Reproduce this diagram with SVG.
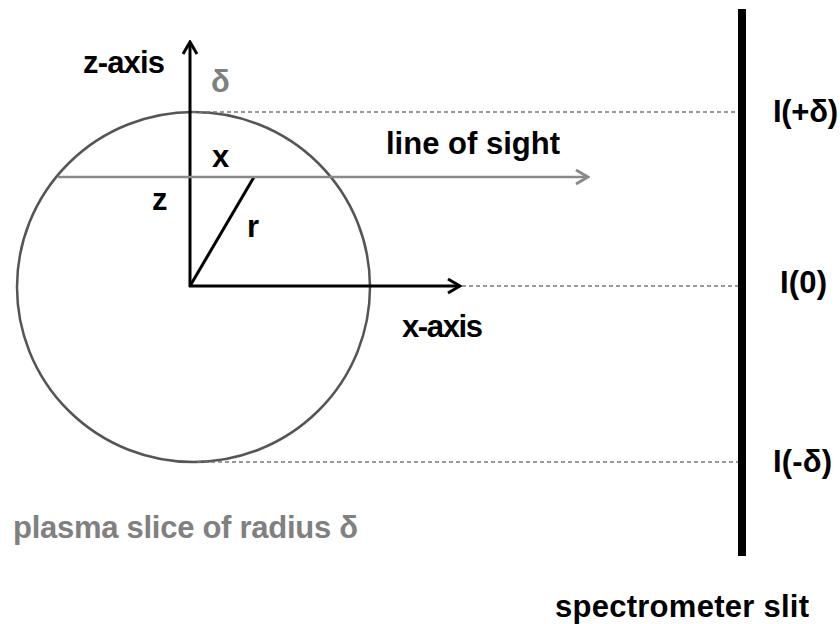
<svg xmlns="http://www.w3.org/2000/svg" width="840" height="624" viewBox="0 0 840 624">
<defs>
<style>
.t{font-family:"Liberation Sans",Arial,sans-serif;font-weight:bold;font-size:31px;fill:#000}
.g{fill:#808080}
.ax{stroke:#000;stroke-width:3;fill:none}
.dash{stroke:#777;stroke-width:1.5;stroke-dasharray:4 3;fill:none}
</style>
<marker id="ab" markerUnits="userSpaceOnUse" viewBox="0 0 16 18" refX="14" refY="9" markerWidth="16" markerHeight="18" orient="auto">
<path d="M2,2 L14,9 L2,16" fill="none" stroke="#000" stroke-width="3" stroke-linejoin="miter"/>
</marker>
<marker id="ag" markerUnits="userSpaceOnUse" viewBox="0 0 16 18" refX="14" refY="9" markerWidth="16" markerHeight="18" orient="auto">
<path d="M2,2 L14,9 L2,16" fill="none" stroke="#8a8a8a" stroke-width="3"/>
</marker>
</defs>
<rect width="840" height="624" fill="#fff"/>
<g id="plasma-slice">
<ellipse cx="193.5" cy="287" rx="176.5" ry="175" fill="none" stroke="#555" stroke-width="2.5"/>
<text class="t g" x="13" y="538" textLength="345">plasma slice of radius δ</text>
</g>
<g id="spectrometer-slit">
<line x1="742" y1="9" x2="742" y2="556" stroke="#000" stroke-width="8"/>
<text class="t" x="555" y="617" textLength="254">spectrometer slit</text>
</g>
<g id="labels-slit">
<text class="t" x="773" y="122" textLength="65">I(+δ)</text>
<text class="t" x="780" y="293" textLength="47">I(0)</text>
<text class="t" x="773" y="472" textLength="59">I(-δ)</text>
</g>
<g id="connectors">
<line class="ax" x1="190" y1="287" x2="190" y2="42" marker-end="url(#ab)"/>
<line class="ax" x1="189" y1="286" x2="460" y2="286" marker-end="url(#ab)"/>
<line class="ax" x1="190" y1="286" x2="254" y2="177"/>
<line x1="58" y1="177" x2="588" y2="177" stroke="#8a8a8a" stroke-width="2.5" marker-end="url(#ag)"/>
<line class="dash" x1="192" y1="112" x2="738" y2="112"/>
<line class="dash" x1="462" y1="286" x2="738" y2="286"/>
<line class="dash" x1="197" y1="462" x2="738" y2="462"/>
</g>
<g id="axis-labels">
<text class="t" x="83" y="73" textLength="82">z-axis</text>
<text class="t" x="402" y="337" textLength="81">x-axis</text>
<text class="t" x="386" y="154" textLength="174">line of sight</text>
<text class="t g" x="211" y="92">δ</text>
<text class="t" x="212" y="167">x</text>
<text class="t" x="152" y="210">z</text>
<text class="t" x="247" y="237">r</text>
</g>
</svg>
